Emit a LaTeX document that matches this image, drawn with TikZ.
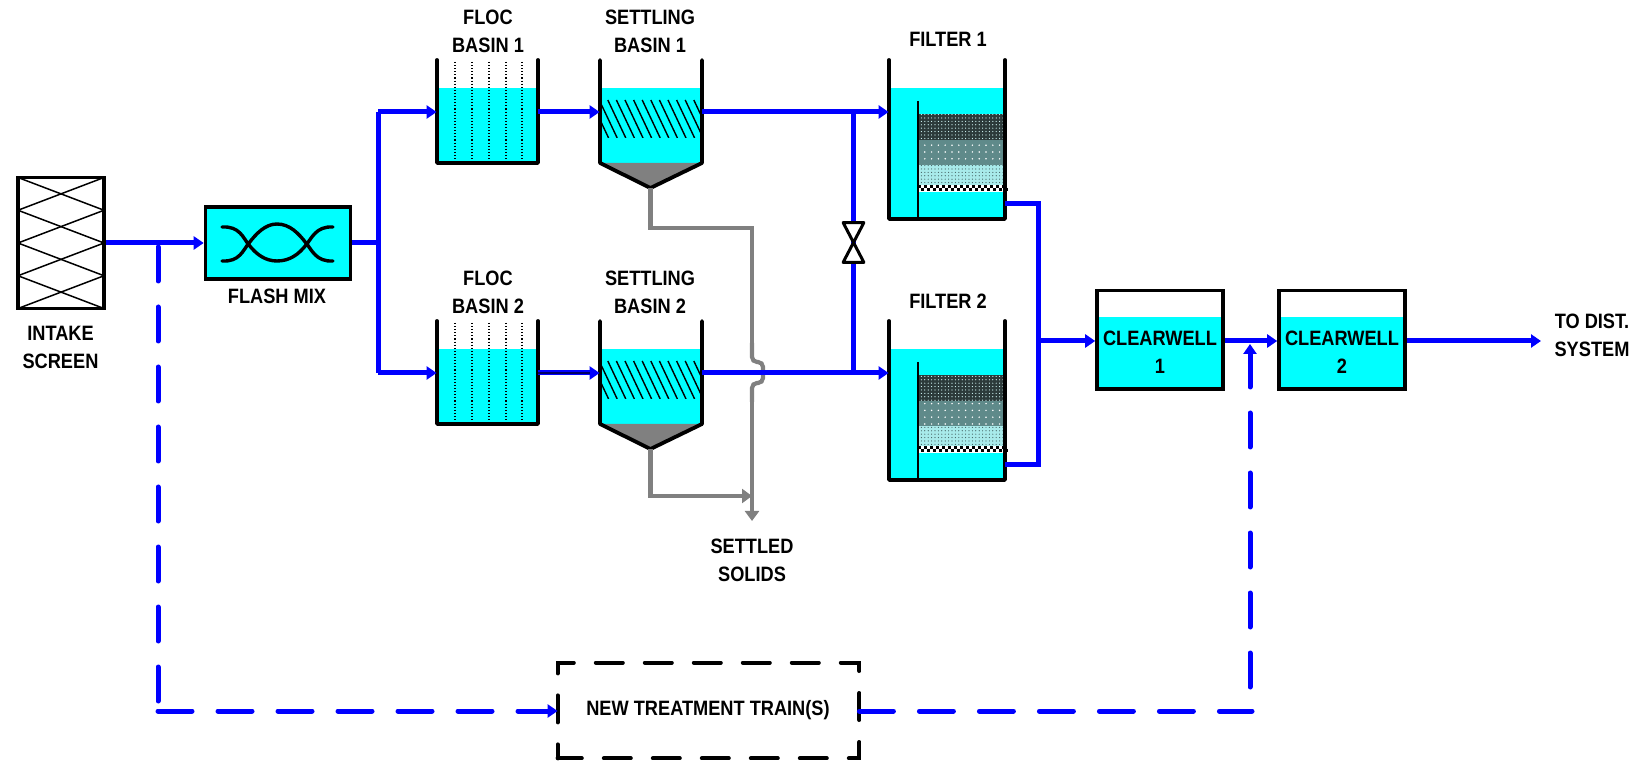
\documentclass[tikz,border=0pt]{standalone}
\usepackage{fontspec}
\setmainfont{Liberation Sans}[FakeStretch=0.875]
\usetikzlibrary{arrows.meta,patterns.meta}
\definecolor{water}{HTML}{00FFFF}
\definecolor{pipeblue}{HTML}{0000FF}
\definecolor{sludge}{HTML}{808080}
\definecolor{mediaA}{HTML}{2C3A3A}
\definecolor{mediaB}{HTML}{5F8A8A}
\definecolor{mediaC}{HTML}{A8EAEA}
\tikzset{
  pipe/.style={draw=pipeblue,line width=2.5pt},
  flow/.style={pipe,-{Triangle[length=5pt,width=6.5pt]}},
  newflow/.style={flow,line cap=round,dash pattern=on 17pt off 13pt},
  newline/.style={pipe,line cap=round,dash pattern=on 17pt off 13pt},
  solids/.style={draw=sludge,line width=2.1pt},
  solidsflow/.style={solids,-{Triangle[length=5pt,width=7pt]}},
  wall/.style={draw=black,line width=1.9pt,line cap=round,line join=round},
  label/.style={font=\fontsize{10.4pt}{14pt}\selectfont\bfseries,align=center,text=black,inner sep=0pt},
  tank/.style={inner sep=0pt,minimum width=#1*0.5pt,minimum height=51.5pt},
  flatbox/.style={draw=black,line width=1.8pt,inner sep=0pt},
  baffle/.style={draw=black,line width=.55pt,densely dotted},
  plate/.style={draw=black,line width=.7pt},
  mixcurve/.style={draw=black,line width=1.7pt,line cap=round}
}
\newcommand{\floctank}[2]{%
  \begin{scope}[shift={(0,#2)}]
    \fill[water] (437,88) rectangle (538,163);
    \foreach \bx in {455,472,489,506,522} \draw[baffle] (\bx,62) -- (\bx,162);
    \draw[wall] (437,60) -- (437,163) -- (538,163) -- (538,60);
  \end{scope}
  \node[tank=101] (#1) at (487.5,112+#2) {};
}
\newcommand{\settletank}[2]{%
  \begin{scope}[shift={(0,#2)}]
    \fill[water] (600,88) rectangle (702,163);
    \fill[sludge] (600,163) -- (702,163) -- (650.5,188) -- cycle;
    \begin{scope}
      \clip (602,100) rectangle (700,138);
      \foreach \hx in {0,...,14} \draw[plate] (582+8.6*\hx,100) -- (600+8.6*\hx,138);
    \end{scope}
    \draw[wall] (600,60) -- (600,163) -- (650.5,188) -- (702,163) -- (702,60);
  \end{scope}
  \node[tank=102] (#1) at (651,112+#2) {};
  \coordinate (#1drain) at (650.5,188+#2);
}
\newcommand{\filtertank}[2]{%
  \begin{scope}[shift={(0,#2)}]
    \fill[water] (889,88) rectangle (1005,219);
    \fill[mediaA] (918,114) rectangle (1004,140);
    \fill[pattern={Dots[distance=1.7pt,radius=.3pt]},pattern color=white!85!water] (918,114) rectangle (1004,140);
    \fill[mediaB] (918,140) rectangle (1004,165);
    \fill[pattern={Dots[distance=3.4pt,radius=.42pt]},pattern color=white] (918,140) rectangle (1004,165);
    \fill[mediaC] (918,165) rectangle (1004,185);
    \fill[pattern={Dots[distance=1.7pt,radius=.3pt]},pattern color=mediaB!70!black] (918,165) rectangle (1004,185);
    \fill[white] (918,185) rectangle (1004,192);
    \foreach \cx in {0,...,14} {
      \fill[black] (918+6*\cx,185.5) rectangle ++(3,3);
      \fill[black] (921+6*\cx,188.5) rectangle ++(3,3);
    }
    \draw[black,line width=1pt] (918,101) -- (918,218);
    \draw[wall] (889,60) -- (889,219) -- (1005,219) -- (1005,60);
  \end{scope}
  \node[tank=116] (#1) at (947,112+#2) {};
  \coordinate (#1out) at (1005,204+#2);
}
\newcommand{\clearwell}[2]{%
  \fill[water] (#2-63,317) rectangle (#2+63,389);
  \node[flatbox,minimum width=63pt,minimum height=49.3pt] (#1) at (#2,340) {};
}
\begin{document}
\begin{tikzpicture}[x=0.5pt,y=-0.5pt]
\useasboundingbox (0,0) rectangle (1644,764);

% tanks
\floctank{flocA}{0}
\floctank{flocB}{261}
\settletank{settleA}{0}
\settletank{settleB}{261}
\filtertank{filterA}{0}
\filtertank{filterB}{261}
\clearwell{cwA}{1160}
\clearwell{cwB}{1342}

% intake screen
\node[flatbox,minimum width=43pt,minimum height=65.5pt] (intake) at (61,243) {};
\foreach \ya/\yb in {177.5/210.25,210.25/243,243/275.75,275.75/308.5} {
  \draw[black,line width=.75pt] (18,\ya) -- (104,\yb);
  \draw[black,line width=.75pt] (18,\yb) -- (104,\ya);
}

% flash mix
\node[flatbox,fill=water,minimum width=72.5pt,minimum height=36pt] (flash) at (278,243) {};
\draw[mixcurve] (222,227) .. controls (240,226) and (243,238) .. (249,245) .. controls (256,254) and (265,261) .. (277,261) .. controls (290,261) and (299,254) .. (306,245) .. controls (312,238) and (316,226) .. (333,227);
\draw[mixcurve] (222,261) .. controls (240,262) and (243,250) .. (249,243) .. controls (256,234) and (265,224) .. (277,224) .. controls (290,224) and (299,234) .. (306,243) .. controls (312,250) and (316,262) .. (333,261);

% new train
\node[inner sep=0pt,minimum width=150.5pt,minimum height=47.5pt] (newtrain) at (708.5,710.5) {};
\draw[black,line width=2pt,line cap=round,dash pattern=on 13.5pt off 11pt,dash phase=6.5pt] (newtrain.south west) -- (newtrain.north west) -- (newtrain.north east) -- (newtrain.south east) -- (newtrain.south west);

% junctions
\coordinate (mixsplit) at (378,243);
\coordinate (upper) at (378,112);
\coordinate (lower) at (378,373);
\coordinate (tapA) at (853,112);
\coordinate (tapB) at (853,373);
\coordinate (intakeTap) at (158,247);
\coordinate (newC) at (158,704);
\coordinate (newA) at (158,711);
\coordinate (newB) at (1252,711);
\coordinate (newD) at (1250,687);
\coordinate (cwTap) at (1250,344);
\coordinate (combine) at (1038,341);
\coordinate (collA) at (1038,204);
\coordinate (collB) at (1038,465);
\coordinate (dist) at (1541,341);
\coordinate (solidsA1) at (650.5,228);
\coordinate (solidsA2) at (752,228);
\coordinate (solidsEnd) at (752,521);
\coordinate (solidsB1) at (650.5,496);
\coordinate (solidsB2) at (752,496);

% settled solids lines
\draw[solids] (settleAdrain) -- (solidsA1) -- (solidsA2) -- (752,345);
\draw[solids,rounded corners=2.5pt] (752,343) -- (752,362) -- (763,362) -- (763,383) -- (752,383) -- (752,402);
\draw[solidsflow] (752,400) -- (solidsEnd);
\draw[solidsflow] (settleBdrain) -- (solidsB1) -- (solidsB2);

% blue pipes
\draw[flow] (intake.east) -- (flash.west);
\draw[pipe] (flash.east) -- (mixsplit);
\draw[pipe] (lower) -- (upper);
\draw[flow] (upper) -- (flocA.west);
\draw[flow] (lower) -- (flocB.west);
\draw[flow] (flocA.east) -- (settleA.west);
\draw[flow] (flocB.east) -- (settleB.west);
\draw[black!60!pipeblue,line width=.8pt,shorten >=5pt] (flocB.east) -- (settleB.west);
\draw[flow] (settleA.east) -- (filterA.west);
\draw[flow] (settleB.east) -- (filterB.west);
\draw[pipe] (tapA) -- (tapB);
\draw[pipe] (filterAout) -- (collA) -- (collB) -- (filterBout);
\draw[flow] (combine) -- (cwA.west |- combine);
\draw[flow] (cwA.east |- combine) -- (cwB.west |- combine);
\draw[flow] (cwB.east |- combine) -- (dist);

% new train bypass
\draw[newline] (intakeTap) -- (newC);
\draw[newflow] (newA) -- (newtrain.west |- newA);
\draw[newline] (newtrain.east |- newB) -- (newB);
\draw[newflow] (newD) -- (cwTap);

% valve
\node[draw=none,inner sep=0pt,minimum width=10pt,minimum height=19.5pt] (valve) at (853.5,242.5) {};
\draw[black,fill=white,line width=1.5pt,line join=round] (valve.north west) -- (valve.north east) -- (valve.south west) -- (valve.south east) -- cycle;

% labels
\node[label] (lFlocA) at (488,31) {FLOC\\BASIN 1};
\node[label] (lSetA) at (650,31) {SETTLING\\BASIN 1};
\node[label] (lFilA) at (948,39) {FILTER 1};
\node[label] (lFlocB) at (488,292) {FLOC\\BASIN 2};
\node[label] (lSetB) at (650,292) {SETTLING\\BASIN 2};
\node[label] (lFilB) at (948,301) {FILTER 2};
\node[label] (lIntake) at (60.5,347) {INTAKE\\SCREEN};
\node[label] (lFlash) at (277,296) {FLASH MIX};
\node[label] (lSolids) at (752,560) {SETTLED\\SOLIDS};
\node[label] (lCwA) at (1160,352) {CLEARWELL\\1};
\node[label] (lCwB) at (1342,352) {CLEARWELL\\2};
\node[label] (lDist) at (1592,335) {TO DIST.\\SYSTEM};
\node[label] (lNew) at (708,710) {NEW TREATMENT TRAIN(S)};
\end{tikzpicture}
\end{document}
